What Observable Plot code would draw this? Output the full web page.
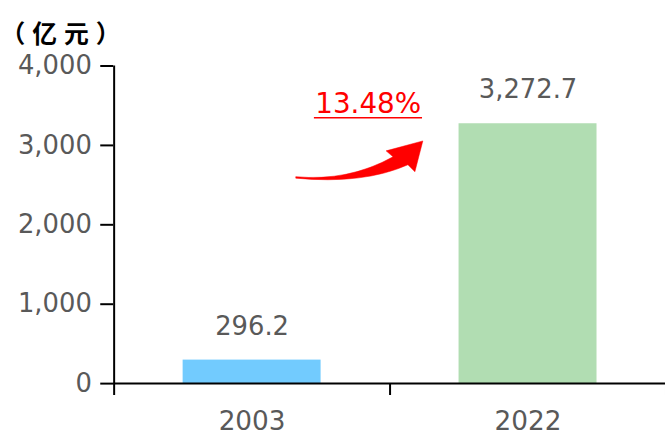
<!DOCTYPE html>
<html>
<head>
<meta charset="utf-8">
<script src="https://cdn.jsdelivr.net/npm/d3@7"></script>
<script src="https://cdn.jsdelivr.net/npm/@observablehq/plot@0.6"></script>
<style>
  html, body { margin: 0; padding: 0; background: #fff; overflow: hidden; }
  svg { display: block; }
</style>
</head>
<body>
<div id="chart"></div>
<script>
const years = ["2003", "2022"];
const values = [296.2, 3272.7];
const valueLabels = ["296.2", "3,272.7"];
const barColors = ["#72CBFE", "#B1DDB2"];
const yTicks = [0, 1000, 2000, 3000, 4000];
const unitLabel = "（亿元）";
const growthLabel = "13.48%";

const data = years.map((y, i) => ({year: y, value: values[i], label: valueLabels[i], color: barColors[i]}));

const W = 670, H = 439;
const mL = 114, mR = 0, mT = 66, mB = 53;
const step = (W - mL - mR) / 2;
const axisGray = "#595959";

const plot = Plot.plot({
  width: W,
  height: H,
  marginLeft: mL,
  marginRight: mR,
  marginTop: mT,
  marginBottom: mB,
  style: {fontFamily: "DejaVu Sans", fontSize: "26px", background: "#fff"},
  x: {domain: years, paddingInner: 0.5, paddingOuter: 0.25, label: null},
  y: {domain: [0, 4000], label: null},
  marks: [
    Plot.barY(data, {x: "year", y: "value", fill: "color"}),
    Plot.axisY({ticks: yTicks, tickSize: 13, tickPadding: 9, tickFormat: d3.format(","), stroke: "black", fill: axisGray, strokeWidth: 2, fontSize: 26, label: null}),
    Plot.axisX({tickSize: 0, tickPadding: 28, fill: axisGray, fontSize: 26.5, label: null}),
    Plot.ruleY([0], {stroke: "black", strokeWidth: 2}),
    Plot.ruleX([years[0]], {x: d => d, y1: -150, y2: 4000, dx: -step / 2, stroke: "black", strokeWidth: 2}),
    Plot.ruleX(years, {x: d => d, y1: 0, y2: -150, dx: step / 2, stroke: "black", strokeWidth: 2}),
    Plot.text(data, {x: "year", y: "value", text: "label", dy: -34, fill: axisGray, fontSize: 26}),
    Plot.text([unitLabel], {frameAnchor: "top-left", dx: -114, dy: -41, text: d => d, fill: "black", fontSize: 25, fontWeight: "bold", fontFamily: "Noto Sans CJK SC", textAnchor: "start"}),
    Plot.text([growthLabel], {x: () => years[1], y: () => 3525, text: d => d, dx: -161, fill: "#FF0000", fontSize: 28})
  ]
});

document.getElementById("chart").appendChild(plot);

const svg = d3.select(plot);

// spread the unit title like the reference
svg.selectAll("text").filter(function() { return this.textContent === unitLabel; })
  .style("letter-spacing", "7px");

// underline for the growth label
svg.selectAll("text").filter(function() { return this.textContent === growthLabel; })
  .each(function() {
    const r = this.getBoundingClientRect();
    const pr = plot.getBoundingClientRect();
    const x0 = r.left - pr.left + 1, x1 = r.right - pr.left + 4;
    const yb = r.bottom - pr.top - 1;
    svg.append("line").attr("x1", x0).attr("x2", x1).attr("y1", yb).attr("y2", yb)
      .attr("stroke", "#FF0000").attr("stroke-width", 1.6);
  });

// curved growth arrow, positioned via the chart's scales
const xs = plot.scale("x"), ys = plot.scale("y");
const tipX = xs.apply(years[1]) - 36;
const tipY = ys.apply(3050);
const pts = [
  ["M", -128, 36], ["Q", -75, 41, -30, 16], ["L", -37, 10], ["L", 0, 0], ["L", -8, 31], ["L", -15, 24], ["Q", -60, 44, -128, 37.5], ["Z"]
];
const dPath = pts.map(p => p[0] + p.slice(1).map((v, i) => (i % 2 === 0 ? tipX + v : tipY + v).toFixed(1)).join(" ")).join(" ");
svg.append("path").attr("d", dPath).attr("fill", "#FF0000").attr("stroke", "#FF0000").attr("stroke-width", 0.5);
</script>
</body>
</html>
